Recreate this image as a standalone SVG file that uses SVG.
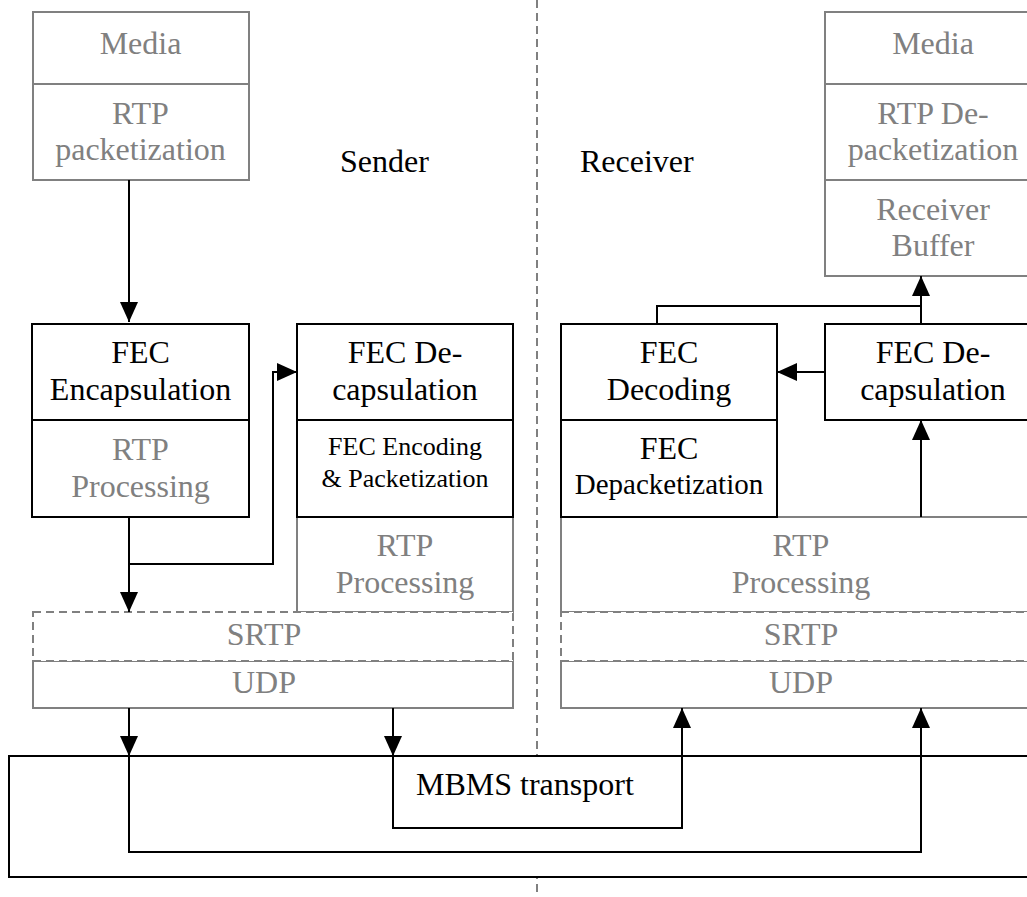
<svg xmlns="http://www.w3.org/2000/svg" width="1027" height="897" viewBox="0 0 1027 897">
<style>
  text { font-family: "Liberation Serif", "Times New Roman", serif; font-size: 32px; text-anchor: middle; }
  .g { fill: #808080; }
  .k { fill: #000; }
  .sm { font-size: 26px; }
  .md { font-size: 29px; }
  .st { text-anchor: start; }
  .bk { fill: #fff; stroke: #000; stroke-width: 2; }
  .gr { fill: #fff; stroke: #808080; stroke-width: 2; }
  .gd { fill: none; stroke: #808080; stroke-width: 2; stroke-dasharray: 8 5; }
  .ln { fill: none; stroke: #000; stroke-width: 2; }
  .arr { fill: none; stroke: #000; stroke-width: 2; marker-end: url(#ah); }
</style>
<defs>
  <marker id="ah" markerUnits="userSpaceOnUse" markerWidth="20" markerHeight="18" refX="20" refY="9" orient="auto">
    <path d="M0,0 L20,9 L0,18 Z" fill="#000"/>
  </marker>
</defs>
<rect width="1027" height="897" fill="#fff"/>
<line x1="537" y1="0" x2="537" y2="897" stroke="#808080" stroke-width="2" stroke-dasharray="8 5"/>

<g id="sender-media">
  <rect class="gr" x="33" y="12" width="216" height="168"/>
  <line x1="33" y1="84" x2="249" y2="84" stroke="#808080" stroke-width="2"/>
  <text class="g" x="140.5" y="54">Media</text>
  <text class="g" x="140.5" y="124">RTP</text>
  <text class="g" x="140.5" y="160">packetization</text>
</g>

<g id="receiver-media">
  <rect class="gr" x="825" y="12" width="216" height="264"/>
  <line x1="825" y1="84" x2="1041" y2="84" stroke="#808080" stroke-width="2"/>
  <line x1="825" y1="180" x2="1041" y2="180" stroke="#808080" stroke-width="2"/>
  <text class="g" x="933" y="54">Media</text>
  <text class="g" x="933" y="124">RTP De-</text>
  <text class="g" x="933" y="160">packetization</text>
  <text class="g" x="933" y="220">Receiver</text>
  <text class="g" x="933" y="256">Buffer</text>
</g>

<text id="sender-label" class="k st" x="340" y="172">Sender</text>
<text id="receiver-label" class="k st" x="580" y="172">Receiver</text>

<g id="sender-rtp-proc">
  <rect class="gr" x="297" y="517" width="216" height="95"/>
  <text class="g" x="405" y="556">RTP</text>
  <text class="g" x="405" y="593">Processing</text>
</g>

<g id="receiver-rtp-proc">
  <rect class="gr" x="561" y="517" width="480" height="95"/>
  <text class="g" x="801" y="556">RTP</text>
  <text class="g" x="801" y="593">Processing</text>
</g>

<g id="sender-udp">
  <rect class="gr" x="33" y="661" width="480" height="47"/>
  <text class="g" x="264" y="693">UDP</text>
</g>
<g id="sender-srtp">
  <rect x="33" y="612" width="480" height="49" fill="#fff"/>
  <rect class="gd" x="33" y="612" width="480" height="49"/>
  <text class="g" x="264" y="645">SRTP</text>
</g>

<g id="receiver-udp">
  <rect class="gr" x="561" y="661" width="480" height="47"/>
  <text class="g" x="801" y="693">UDP</text>
</g>
<g id="receiver-srtp">
  <rect x="561" y="612" width="480" height="49" fill="#fff"/>
  <rect class="gd" x="561" y="612" width="480" height="49"/>
  <text class="g" x="801" y="645">SRTP</text>
</g>

<g id="fec-encapsulation">
  <rect class="bk" x="32" y="324" width="217" height="193"/>
  <line x1="32" y1="420" x2="249" y2="420" stroke="#000" stroke-width="2"/>
  <text class="k" x="140.5" y="363">FEC</text>
  <text class="k" x="140.5" y="400">Encapsulation</text>
  <text class="g" x="140.5" y="460">RTP</text>
  <text class="g" x="140.5" y="497">Processing</text>
</g>

<g id="sender-fec-decapsulation">
  <rect class="bk" x="297" y="324" width="216" height="193"/>
  <line x1="297" y1="420" x2="513" y2="420" stroke="#000" stroke-width="2"/>
  <text class="k" x="405" y="363">FEC De-</text>
  <text class="k" x="405" y="400">capsulation</text>
  <text class="k sm" x="405" y="455">FEC Encoding</text>
  <text class="k sm" x="405" y="487">&amp; Packetization</text>
</g>

<g id="fec-decoding">
  <rect class="bk" x="561" y="324" width="216" height="193"/>
  <line x1="561" y1="420" x2="777" y2="420" stroke="#000" stroke-width="2"/>
  <text class="k" x="669" y="363">FEC</text>
  <text class="k" x="669" y="400">Decoding</text>
  <text class="k" x="669" y="459">FEC</text>
  <text class="k md" x="669" y="494">Depacketization</text>
</g>

<g id="receiver-fec-decapsulation">
  <rect class="bk" x="825" y="324" width="216" height="96"/>
  <text class="k" x="933" y="363">FEC De-</text>
  <text class="k" x="933" y="400">capsulation</text>
</g>

<g id="mbms">
  <rect class="bk" x="9" y="756" width="1040" height="121"/>
  <text class="k st" x="416" y="795">MBMS transport</text>
</g>

<g id="connectors">
  <path class="arr" d="M129,180 V322"/>
  <path class="arr" d="M129,517 V612"/>
  <path class="arr" d="M129,564 H273 V372 H297"/>
  <path class="arr" d="M129,708 V756"/>
  <path class="arr" d="M393,708 V756"/>
  <path class="arr" d="M129,756 V852 H921 V708"/>
  <path class="arr" d="M393,756 V828 H682 V708"/>
  <path class="arr" d="M921,517 V420"/>
  <path class="arr" d="M825,372 H777"/>
  <path class="arr" d="M921,324 V276"/>
  <path class="ln" d="M657,324 V306 H921"/>
</g>
</svg>
